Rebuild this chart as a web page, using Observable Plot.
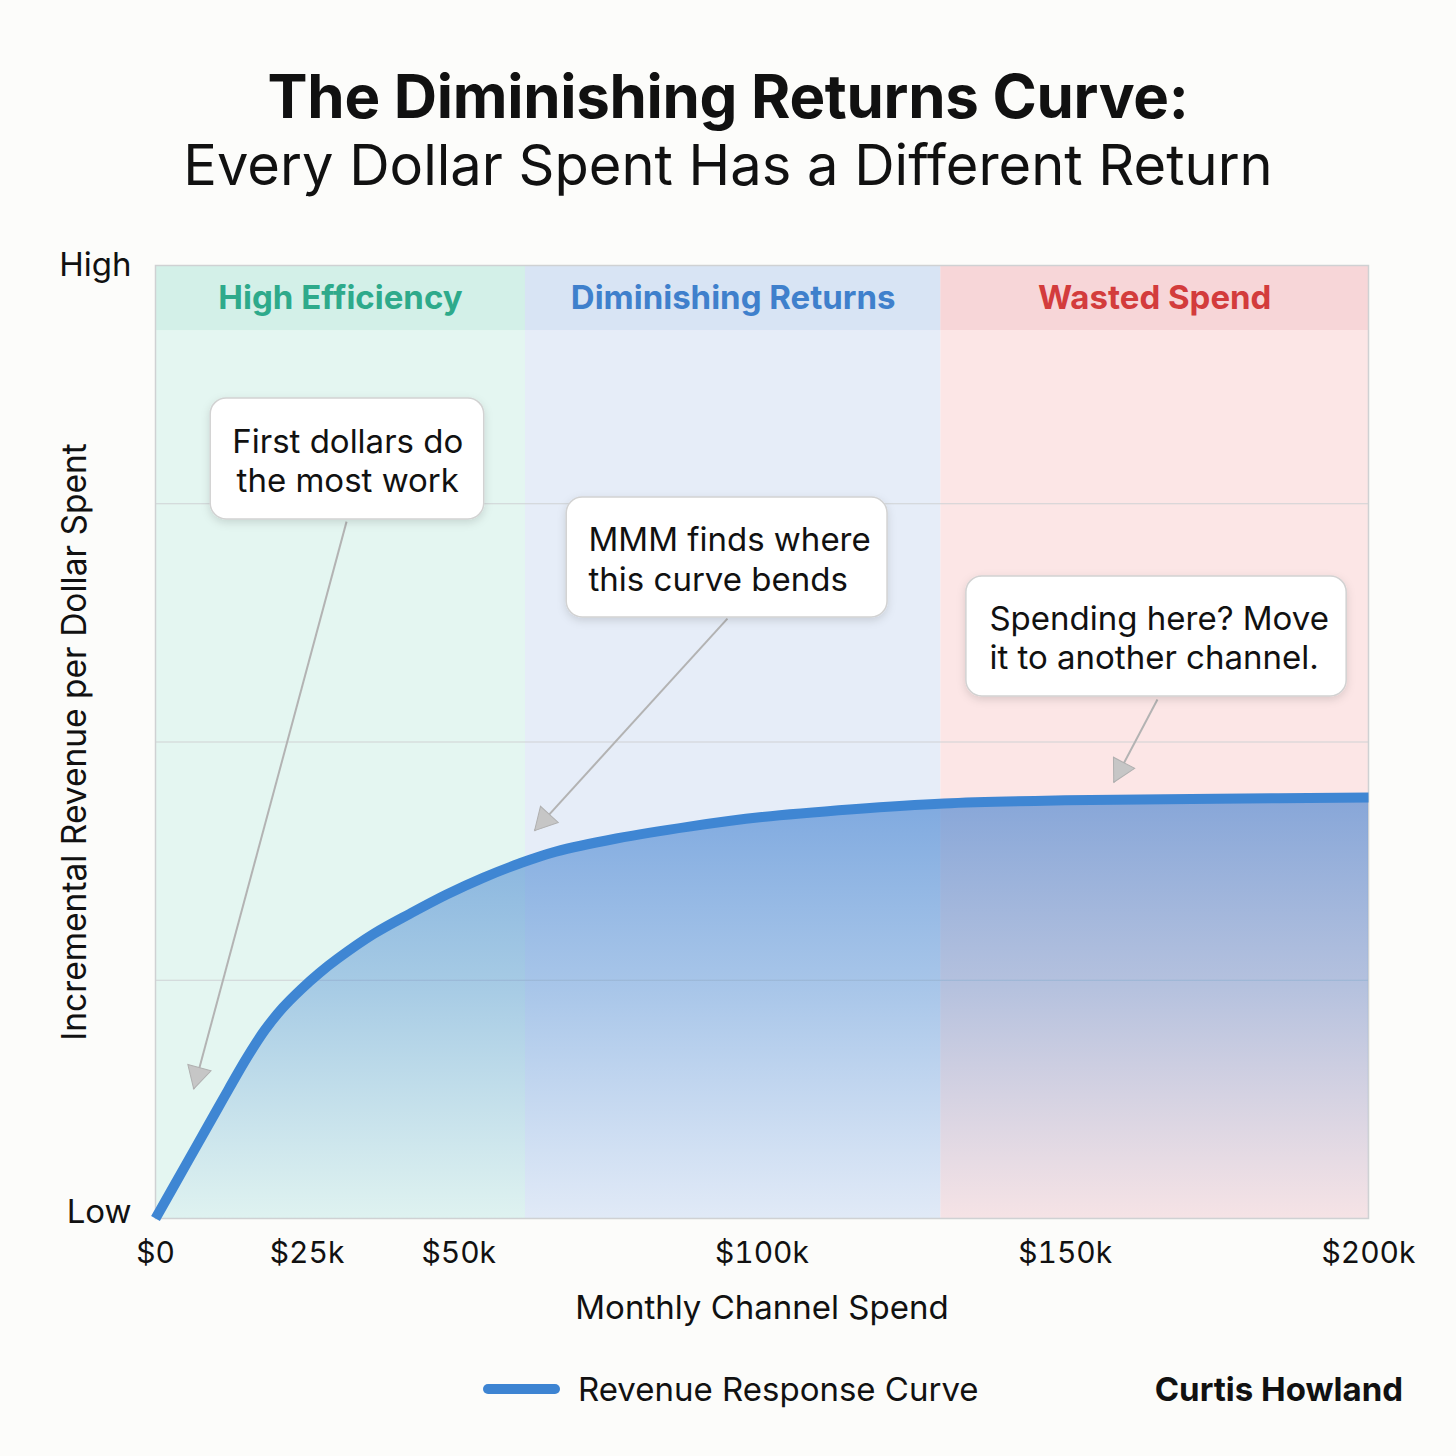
<!DOCTYPE html>
<html>
<head>
<meta charset="utf-8">
<script src="https://cdn.jsdelivr.net/npm/d3@7"></script>
<script src="https://cdn.jsdelivr.net/npm/@observablehq/plot@0.6"></script>
<style>
  html, body { margin: 0; padding: 0; background: #fcfcfa; }
  #page { position: relative; width: 1456px; height: 1456px; overflow: hidden; font-family: Inter, "Noto Sans", sans-serif; color: #111; }
  #title { position: absolute; left: 0; width: 1456px; top: 61px; text-align: center; font-size: 60px; font-weight: 700; line-height: 70px; letter-spacing: -0.3px; }
  #subtitle { position: absolute; left: 0; width: 1456px; top: 133px; text-align: center; font-size: 56px; font-weight: 400; line-height: 64px; }
  #chart { position: absolute; left: 0; top: 240px; }
  #legend { position: absolute; left: 0; top: 1360px; width: 1456px; height: 60px; }
  #legend .swatch { position: absolute; left: 483px; top: 24px; width: 77px; height: 10px; border-radius: 5px; background: #3d84d2; }
  #legend .label { position: absolute; left: 578px; top: 8px; font-size: 33px; line-height: 42px; }
  #legend .credit { position: absolute; right: 53px; top: 8px; font-size: 33px; line-height: 42px; font-weight: 700; }
</style>
</head>
<body>
<div id="page">
  <div id="title"></div>
  <div id="subtitle"></div>
  <div id="chart"></div>
  <div id="legend"><div class="swatch"></div><div class="label"></div><div class="credit"></div></div>
</div>
<script>
// ---- Data ----
const titleText = "The Diminishing Returns Curve:";
const subtitleText = "Every Dollar Spent Has a Different Return";
const xTitle = "Monthly Channel Spend";
const yTitle = "Incremental Revenue per Dollar Spent";
const legendLabel = "Revenue Response Curve";
const creditText = "Curtis Howland";

// monthly spend (thousands of $) and response (arbitrary units, 0 = Low, 4 = High)
const spendK   = [0, 5, 10, 12, 15, 18, 21, 24, 27, 30, 36, 42, 48, 54, 60, 66, 76, 88, 100, 115, 130, 150, 175, 200];
const response = [0, 0.225, 0.45, 0.54, 0.672, 0.79, 0.885, 0.962, 1.03, 1.09, 1.195, 1.28, 1.36, 1.43, 1.49, 1.54, 1.595, 1.645, 1.685, 1.718, 1.742, 1.755, 1.762, 1.767];

const xTicks = [0, 25, 50, 100, 150, 200];
const xTickLabels = ["$0", "$25k", "$50k", "$100k", "$150k", "$200k"];
const yLowLabel = "Low";
const yHighLabel = "High";
const gridValues = [1, 2, 3];

const zoneNames = ["High Efficiency", "Diminishing Returns", "Wasted Spend"];
const zoneStart = [0, 61, 129.5];
const zoneEnd   = [61, 129.5, 200];

const annotationText = [
  "First dollars do\nthe most work",
  "MMM finds where\nthis curve bends",
  "Spending here? Move\nit to another channel."
];

// ---- Layout / style tables (built from the arrays above) ----
const zoneColors = [
  {text: "#2eaa8b", body: "#e4f6f1", head: "#d3f0e8"},
  {text: "#3f80cc", body: "#e6edf8", head: "#d8e4f4"},
  {text: "#d33c3c", body: "#fce6e6", head: "#f7d6d8"}
];
const zones = zoneNames.map((name, i) => ({name, x1: zoneStart[i], x2: zoneEnd[i], ...zoneColors[i]}));
const curve = spendK.map((s, i) => ({spend: s, resp: response[i]}));

// annotation layout in data units (x: $k, y: response units)
const annLayout = [
  {bx1: 9.1, bx2: 54.2, by1: 2.934, by2: 3.442, tx: 31.7, ty: 3.185, anchor: "middle", ax1: 31.5, ay1: 2.925, ax2: 6.3, ay2: 0.544},
  {bx1: 67.8, bx2: 120.7, by1: 2.523, by2: 3.026, tx: 71.4, ty: 2.772, anchor: "start", ax1: 94.3, ay1: 2.518, ax2: 62.5, ay2: 1.628},
  {bx1: 133.7, bx2: 196.4, by1: 2.191, by2: 2.695, tx: 137.5, ty: 2.442, anchor: "start", ax1: 165.2, ay1: 2.178, ax2: 158.0, ay2: 1.831}
];
const annotations = annotationText.map((text, i) => ({text, ...annLayout[i]}));

document.getElementById("title").textContent = titleText;
document.getElementById("subtitle").textContent = subtitleText;
document.querySelector("#legend .label").textContent = legendLabel;
document.querySelector("#legend .credit").textContent = creditText;

const headerY = 3.727;
const fontFamily = "Inter, 'Noto Sans', sans-serif";

const plot = Plot.plot({
  width: 1456,
  height: 1120,
  marginTop: 25,
  marginBottom: 142,
  marginLeft: 155,
  marginRight: 88,
  style: {fontFamily, background: "transparent", overflow: "visible"},
  x: {domain: [0, 200]},
  y: {domain: [0, 4]},
  marks: [
    Plot.rect(zones, {x1: "x1", x2: "x2", y1: 0, y2: 4, fill: "body"}),
    Plot.rect(zones, {x1: "x1", x2: "x2", y1: headerY, y2: 4, fill: "head"}),
    Plot.ruleY(gridValues, {stroke: "#cfd2d4", strokeWidth: 1.2}),
    Plot.frame({stroke: "#cfd1d3", strokeWidth: 1.5}),
    Plot.areaY(curve, {x: "spend", y: "resp", curve: "catmull-rom", fill: "url(#respGrad)"}),
    Plot.line(curve, {x: "spend", y: "resp", curve: "catmull-rom", stroke: "#3f86d3", strokeWidth: 10, strokeLinecap: "butt"}),
    Plot.text(zones, {x: d => (d.x1 + d.x2) / 2, y: (4 + headerY) / 2, text: "name", fill: "text", fontSize: 33, fontWeight: 700}),
    Plot.link(annotations, {x1: "ax1", y1: "ay1", x2: "ax2", y2: "ay2", stroke: "#b3b3b3", strokeWidth: 2, ariaDescription: "ann-arrow"}),
    Plot.rect(annotations, {x1: "bx1", x2: "bx2", y1: "by1", y2: "by2", fill: "white", stroke: "#d2d2d2", strokeWidth: 1.5, rx: 16, ariaDescription: "ann-box"}),
    Plot.text(annotations.filter(d => d.anchor === "middle"), {x: "tx", y: "ty", text: "text", textAnchor: "middle", lineAnchor: "middle", lineHeight: 1.21, fontSize: 33, fill: "#111"}),
    Plot.text(annotations.filter(d => d.anchor === "start"), {x: "tx", y: "ty", text: "text", textAnchor: "start", lineAnchor: "middle", lineHeight: 1.21, fontSize: 33, fill: "#111"}),
    Plot.axisX({ticks: xTicks, tickFormat: d => xTickLabels[xTicks.indexOf(d)], tickSize: 0, tickPadding: 23, fontSize: 30, fill: "#111", label: null}),
    Plot.axisY({ticks: [4], tickFormat: () => yHighLabel, tickSize: 0, tickPadding: 24, fontSize: 33, fill: "#111", label: null}),
    Plot.axisY({ticks: [0], tickFormat: () => yLowLabel, tickSize: 0, tickPadding: 24, dy: -6, fontSize: 33, fill: "#111", label: null}),
    Plot.text([yTitle], {frameAnchor: "left", textAnchor: "middle", rotate: -90, dx: -80, fontSize: 33.5, fill: "#111"}),
    Plot.text([xTitle], {frameAnchor: "bottom", dy: 100, fontSize: 33, fill: "#111"})
  ]
});

// gradient + arrowhead + shadow definitions
const ns = "http://www.w3.org/2000/svg";
const defs = document.createElementNS(ns, "defs");
defs.innerHTML = `
  <linearGradient id="respGrad" x1="0" y1="0" x2="0" y2="1">
    <stop offset="0" stop-color="#3f7fd0" stop-opacity="0.62"/>
    <stop offset="0.45" stop-color="#4a8ad2" stop-opacity="0.40"/>
    <stop offset="1" stop-color="#5a96d8" stop-opacity="0.04"/>
  </linearGradient>
  <marker id="triHead" viewBox="-24 -13 26 26" refX="0" refY="0" markerWidth="26" markerHeight="26" markerUnits="userSpaceOnUse" orient="auto">
    <path d="M0,0 L-22,-12 L-22,12 Z" fill="#c6c6c6" stroke="#b0b0b0" stroke-width="1"/>
  </marker>
  <filter id="boxShadow" x="-10%" y="-10%" width="120%" height="140%">
    <feDropShadow dx="0" dy="3" stdDeviation="4" flood-color="#000" flood-opacity="0.13"/>
  </filter>`;
plot.insertBefore(defs, plot.firstChild);
plot.querySelectorAll('[aria-description="ann-arrow"] path, [aria-description="ann-arrow"] line').forEach(p => p.setAttribute("marker-end", "url(#triHead)"));
plot.querySelectorAll('[aria-description="ann-box"] rect').forEach(r => r.setAttribute("filter", "url(#boxShadow)"));

document.getElementById("chart").appendChild(plot);
</script>
</body>
</html>
